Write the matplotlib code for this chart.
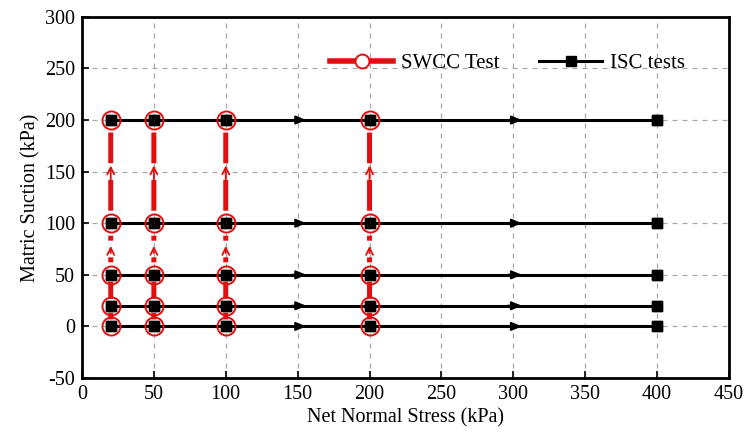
import matplotlib
matplotlib.use("Agg")
import matplotlib.pyplot as plt
from matplotlib.lines import Line2D

plt.rcParams['font.family'] = ['Liberation Serif', 'DejaVu Serif']
plt.rcParams['axes.unicode_minus'] = False

# Data
suction_levels = [0, 20, 50, 100, 200]          # kPa
isc_stress = [20, 50, 100, 200, 400]            # kPa (ISC tests loading path)
swcc_stress = [20, 50, 100, 200]                # kPa (SWCC tests)
isc_arrow_x = [150, 300]                        # direction arrows on ISC paths
swcc_arrow_intervals = [(50, 100), (100, 200)]  # intervals showing direction arrows

xticks = [0, 50, 100, 150, 200, 250, 300, 350, 400, 450]
yticks = [-50, 0, 50, 100, 150, 200, 250, 300]

fig = plt.figure(figsize=(7.48, 4.32), dpi=100)
ax = fig.add_axes([0.1096, 0.125, 0.865, 0.836])

ax.set_xlim(0, 450)
ax.set_ylim(-50, 300)
ax.set_xticks(xticks)
ax.set_yticks(yticks)
ax.grid(True, color='#a8a8a8', linestyle=(0, (4, 4)), linewidth=0.9)
ax.set_axisbelow(True)

red = '#e01010'

def seg(x, ya, yb, sa, sb):
    ax.annotate('', xy=(x, yb), xytext=(x, ya),
                arrowprops=dict(arrowstyle='-', color=red, lw=3.6,
                                shrinkA=sa, shrinkB=sb, capstyle='butt'),
                zorder=2)

# SWCC vertical paths
for x in swcc_stress:
    for y0, y1 in zip(suction_levels[:-1], suction_levels[1:]):
        if (y0, y1) in swcc_arrow_intervals:
            mid = (y0 + y1) / 2
            seg(x, y0, mid, 9, 6)
            seg(x, mid, y1, 6, 9)
            ax.annotate('', xy=(x, mid + (y1 - y0) * 0.06), xytext=(x, mid - (y1 - y0) * 0.08),
                        arrowprops=dict(arrowstyle='->,head_length=0.5,head_width=0.25',
                                        color=red, lw=1.3, shrinkA=0, shrinkB=0),
                        zorder=3)
        else:
            seg(x, y0, y1, 5, 5)

# ISC horizontal paths
for y in suction_levels:
    ax.plot(isc_stress, [y] * len(isc_stress), color='black', lw=2.2,
            marker='s', markersize=7, zorder=4)
    for xa in isc_arrow_x:
        ax.annotate('', xy=(xa + 6, y), xytext=(xa - 4, y),
                    arrowprops=dict(arrowstyle='-|>,head_length=0.6,head_width=0.25',
                                    color='black', lw=1.5, shrinkA=0, shrinkB=0),
                    zorder=4)

# SWCC circles
for x in swcc_stress:
    ax.plot([x] * len(suction_levels), suction_levels, linestyle='none',
            marker='o', markersize=13, markerfacecolor='none',
            markeredgecolor=red, markeredgewidth=1.4, zorder=5)
# squares on top
for y in suction_levels:
    ax.plot(isc_stress, [y] * len(isc_stress), linestyle='none', color='black',
            marker='s', markersize=7, zorder=6)

for s in ax.spines.values():
    s.set_linewidth(2.0)
ax.tick_params(direction='in', length=5, width=1.2, labelsize=14.5, pad=5)

ax.set_xlabel('Net Normal Stress (kPa)', fontsize=14.5, labelpad=3)
ax.set_ylabel('Matric Suction (kPa)', fontsize=14.5, labelpad=3)

handles = [
    Line2D([], [], color=red, lw=4, marker='o', markersize=10,
           markerfacecolor='white', markeredgecolor=red, markeredgewidth=1.4),
    Line2D([], [], color='black', lw=2.2, marker='s', markersize=7),
]
ax.legend(handles, ['SWCC Test', 'ISC tests'], ncol=2, frameon=False,
          loc='upper left', bbox_to_anchor=(0.355, 0.95), fontsize=15,
          handlelength=3.0, columnspacing=1.9, handletextpad=0.4)

fig.savefig('out.png', dpi=100)
